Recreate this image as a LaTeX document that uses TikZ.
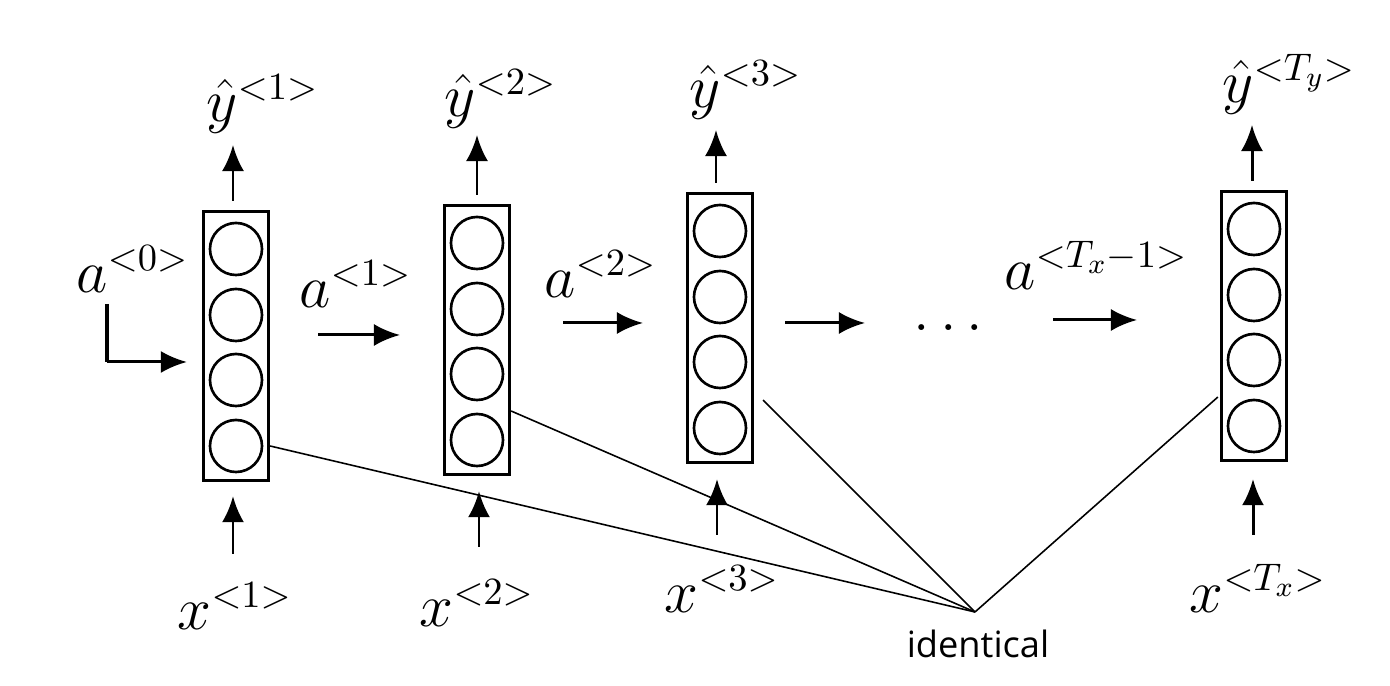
\documentclass[tikz,border=0pt]{standalone}
\usepackage{fontspec}
\newfontfamily\notefont{Open Sans}
\usetikzlibrary{arrows.meta,positioning,calc}
\tikzset{
  cell/.style={draw, line width=0.9pt, minimum width=6.5mm, minimum height=26.9mm, inner sep=0pt},
  unit/.style={draw, circle, line width=0.75pt, minimum size=5.2mm, inner sep=0pt},
  arrow/.style={-{Latex[length=2.6mm,width=2.2mm]}, line width=0.85pt},
  tie/.style={line width=0.45pt},
  var/.style={inner sep=0pt, anchor=base west, font=\fontsize{16}{19}\selectfont},
  note/.style={inner sep=0pt, anchor=base, font=\notefont\fontsize{10.3}{12}\selectfont}
}

\begin{document}
\begin{tikzpicture}[x=0.01cm, y=-0.01cm]
  \useasboundingbox (0,0) rectangle (1390,686);

  % the four copies of the cell
  \node[cell] (c1) at (236,346) {};
  \node[cell] (c2) at (477,340) {};
  \node[cell] (c3) at (720,328) {};
  \node[cell] (c4) at (1254,326) {};
  \foreach \c in {1,...,4}
    \foreach \k/\dy in {1/-97,2/-31,3/34,4/100}
      \node[unit] (c\c u\k) at ($(c\c.center)+(0,\dy)$) {};

  % outputs
  \node[var] (y1) at (206,122) {$\hat{y}^{<1>}$};
  \node[var] (y2) at (444,117) {$\hat{y}^{<2>}$};
  \node[var] (y3) at (689,108) {$\hat{y}^{<3>}$};
  \node[var] (y4) at (1222,103) {$\hat{y}^{<T_y>}$};
  \coordinate (o1) at (233,145);
  \coordinate (o2) at (477,135);
  \coordinate (o3) at (716,130);
  \coordinate (o4) at (1252,125);
  \draw[arrow, shorten <=0.9mm] (c1.north -| o1) -- (o1);
  \draw[arrow, shorten <=0.9mm] (c2.north -| o2) -- (o2);
  \draw[arrow, shorten <=0.9mm] (c3.north -| o3) -- (o3);
  \draw[arrow, shorten <=0.9mm] (c4.north -| o4) -- (o4);

  % inputs
  \node[var] (x1) at (177,630) {$x^{<1>}$};
  \node[var] (x2) at (419,627) {$x^{<2>}$};
  \node[var] (x3) at (664,613) {$x^{<3>}$};
  \node[var] (x4) at (1189,613) {$x^{<T_x>}$};
  \coordinate (i1) at (233,554);
  \coordinate (i2) at (479,547);
  \coordinate (i3) at (717,535);
  \coordinate (i4) at (1253,535);
  \draw[arrow, shorten >=1.4mm] (i1) -- (c1.south -| i1);
  \draw[arrow, shorten >=1.5mm] (i2) -- (c2.south -| i2);
  \draw[arrow, shorten >=1.5mm] (i3) -- (c3.south -| i3);
  \draw[arrow, shorten >=1.7mm] (i4) -- (c4.south -| i4);

  % activations
  \node[var] (a0) at (76,293) {$a^{<0>}$};
  \node[var] (a1) at (299,308) {$a^{<1>}$};
  \node[var] (a2) at (544,298) {$a^{<2>}$};
  \node[var] (aT) at (1004,290) {$a^{<T_x-1>}$};
  \node[var, font=\fontsize{19}{21}\selectfont] (dots) at (913,331) {$\ldots$};
  \coordinate (l0) at (107,304);
  \coordinate (l0c) at (107,362);
  \draw[line width=1.4pt] (l0) -- (l0c);
  \draw[arrow, shorten >=1.5mm] (l0c) -- (c1.west |- l0c);
  \coordinate (h1s) at (318,335);
  \coordinate (h1e) at (400,335);
  \coordinate (h2s) at (563,323);
  \coordinate (h2e) at (643,323);
  \coordinate (h3s) at (785,323);
  \coordinate (h3e) at (865,323);
  \coordinate (h4s) at (1053,320);
  \coordinate (h4e) at (1137,320);
  \draw[arrow] (h1s) -- (h1e);
  \draw[arrow] (h2s) -- (h2e);
  \draw[arrow] (h3s) -- (h3e);
  \draw[arrow] (h4s) -- (h4e);

  % all cells share the same weights
  \coordinate (apex) at (975,612);
  \node[note] (same) at (978,658) {identical};
  \draw[tie] (c1u4 -| c1.east) -- (apex);
  \draw[tie] ($(c2.east)+(0,71)$) -- (apex);
  \draw[tie] ($(c3.east)+(9,72)$) -- (apex);
  \draw[tie] ($(c4.west)+(-2,71)$) -- (apex);
\end{tikzpicture}
\end{document}
